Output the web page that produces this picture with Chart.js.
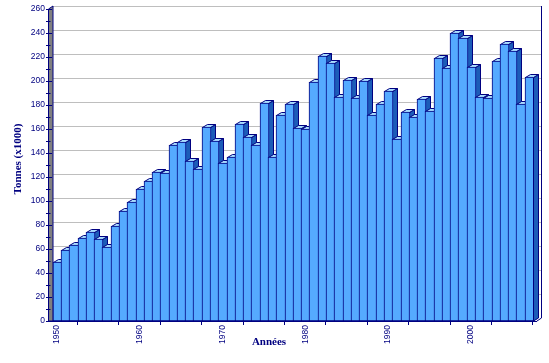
<!DOCTYPE html>
<html>
<head>
<meta charset="utf-8">
<style>
  body { margin: 0; background: #fff; }
  canvas { display: block; }
</style>
<script src="https://cdn.jsdelivr.net/npm/chart.js@4"></script>
</head>
<body>
<canvas id="chart" width="549" height="363"></canvas>
<script>
const years = [1950,1951,1952,1953,1954,1955,1956,1957,1958,1959,
  1960,1961,1962,1963,1964,1965,1966,1967,1968,1969,
  1970,1971,1972,1973,1974,1975,1976,1977,1978,1979,
  1980,1981,1982,1983,1984,1985,1986,1987,1988,1989,
  1990,1991,1992,1993,1994,1995,1996,1997,1998,1999,
  2000,2001,2002,2003,2004,2005,2006,2007];
const tonnes = [49,59,63,69,74,68,62,79,92,99,
  110,117,124,123,147,149,133,127,162,150,
  132,137,164,153,147,182,137,172,181,161,
  160,199,221,215,187,201,186,200,172,181,
  192,152,174,170,185,175,219,211,240,236,
  212,187,186,217,231,225,181,203];

const NAVY = "#000080";
const DX = 5, DY = 3; // profondeur 3D

const depth3d = {
  id: "depth3d",
  // cale les barres sur les pixels pour garder des traits nets
  afterDatasetsUpdate(chart) {
    chart.getDatasetMeta(0).data.forEach(bar => {
      const l = Math.round(bar.x - bar.width / 2);
      const r = Math.round(bar.x + bar.width / 2) + 1;
      bar.width = r - l;
      bar.x = (l + r) / 2;
      bar.y = Math.round(bar.y);
      bar.base = Math.round(bar.base);
    });
  },
  beforeDatasetsDraw(chart) {
    const { ctx, chartArea: a, scales: { y } } = chart;
    ctx.save();
    ctx.lineWidth = 1;

    // mur du fond : lignes de grille
    ctx.strokeStyle = "#bebebe";
    y.ticks.filter(t => t.value % 20 === 0 && t.value > 0).forEach(t => {
      const py = Math.round(y.getPixelForValue(t.value)) - DY + 0.5;
      ctx.beginPath();
      ctx.moveTo(a.left + DX, py);
      ctx.lineTo(a.right + DX + 3, py);
      ctx.stroke();
    });

    // bande grise a gauche
    ctx.fillStyle = "#808080";
    ctx.strokeStyle = NAVY;
    ctx.beginPath();
    ctx.moveTo(a.left + 0.5, a.bottom);
    ctx.lineTo(a.left + 0.5, a.top);
    ctx.lineTo(a.left + DX, a.top - DY);
    ctx.lineTo(a.left + DX, a.bottom);
    ctx.closePath();
    ctx.fill();
    ctx.stroke();

    // bord droit
    ctx.beginPath();
    ctx.moveTo(a.right + DX + 3.5, a.top - DY);
    ctx.lineTo(a.right + DX + 3.5, a.bottom - DY);
    ctx.lineTo(a.right + DX - 1, a.bottom);
    ctx.stroke();

    // cotes et dessus des barres, de gauche a droite
    chart.getDatasetMeta(0).data.forEach(bar => {
      const l = bar.x - bar.width / 2 + 0.5, r = bar.x + bar.width / 2 - 0.5;
      const t = bar.y + 0.5, b = bar.base;
      ctx.strokeStyle = NAVY;
      ctx.fillStyle = "#1c5cb8";
      ctx.beginPath();
      ctx.moveTo(r, t);
      ctx.lineTo(r + DX, t - DY);
      ctx.lineTo(r + DX, b - DY);
      ctx.lineTo(r, b);
      ctx.closePath();
      ctx.fill();
      ctx.stroke();
      ctx.fillStyle = "#aaddff";
      ctx.beginPath();
      ctx.moveTo(l, t);
      ctx.lineTo(l + DX, t - DY);
      ctx.lineTo(r + DX, t - DY);
      ctx.lineTo(r, t);
      ctx.closePath();
      ctx.fill();
      ctx.stroke();
    });
    ctx.restore();
  },
  afterDatasetsDraw(chart) {
    const { ctx, chartArea: a, scales: { y } } = chart;
    ctx.save();
    ctx.strokeStyle = NAVY;
    ctx.lineWidth = 1;
    // ligne du sol
    ctx.beginPath();
    ctx.moveTo(a.left, a.bottom + 0.5);
    ctx.lineTo(a.right + DX - 1, a.bottom + 0.5);
    ctx.stroke();
    // graduations de l'axe Y, a cheval sur la bande
    y.ticks.forEach(t => {
      const py = Math.round(y.getPixelForValue(t.value)) + 0.5;
      ctx.beginPath();
      ctx.moveTo(a.left - 2, py);
      ctx.lineTo(a.left + (t.value % 20 === 0 ? 4 : 2.5), py);
      ctx.stroke();
    });
    // titres des axes
    ctx.fillStyle = NAVY;
    ctx.font = "bold 11px 'Liberation Serif'";
    ctx.textAlign = "center";
    ctx.textBaseline = "middle";
    ctx.fillText("Années", 269, 342);
    ctx.translate(18, 159);
    ctx.rotate(-Math.PI / 2);
    ctx.fillText("Tonnes (x1000)", 0, 0);
    ctx.restore();
  }
};

new Chart(document.getElementById("chart"), {
  type: "bar",
  data: {
    datasets: [{
      data: years.map((yr, i) => ({ x: yr, y: tonnes[i] })),
      backgroundColor: "#55aaff",
      borderColor: NAVY,
      borderWidth: 1,
      borderSkipped: false,
      barPercentage: 1,
      categoryPercentage: 1,
    }],
  },
  options: {
    responsive: false,
    animation: false,
    layout: { autoPadding: false, padding: { top: 9, right: 16, left: 0, bottom: 0 } },
    plugins: { legend: { display: false }, tooltip: { enabled: false } },
    scales: {
      x: {
        type: "linear",
        offset: false,
        min: 1948.93,
        max: 2007.5,
        afterFit: (s) => { s.height = 42; },
        grid: { drawOnChartArea: false, color: NAVY, tickLength: 4 },
        border: { display: false },
        ticks: {
          stepSize: 5,
          autoSkip: false,
          includeBounds: false,
          minRotation: 90,
          maxRotation: 90,
          padding: 0,
          color: NAVY,
          font: { family: "Liberation Sans", size: 8.5 },
          callback: (v) => (v % 10 === 0 ? String(v) : ""),
        },
      },
      y: {
        min: 0,
        max: 260,
        afterFit: (s) => { s.width = 48; },
        grid: { display: false, drawTicks: false },
        border: { display: false },
        ticks: {
          stepSize: 10,
          autoSkip: false,
          padding: 3,
          color: NAVY,
          font: { family: "Liberation Sans", size: 8.5 },
          callback: (v) => (v % 20 === 0 ? String(v) : ""),
        },
      },
    },
  },
  plugins: [depth3d],
});
</script>
</body>
</html>
